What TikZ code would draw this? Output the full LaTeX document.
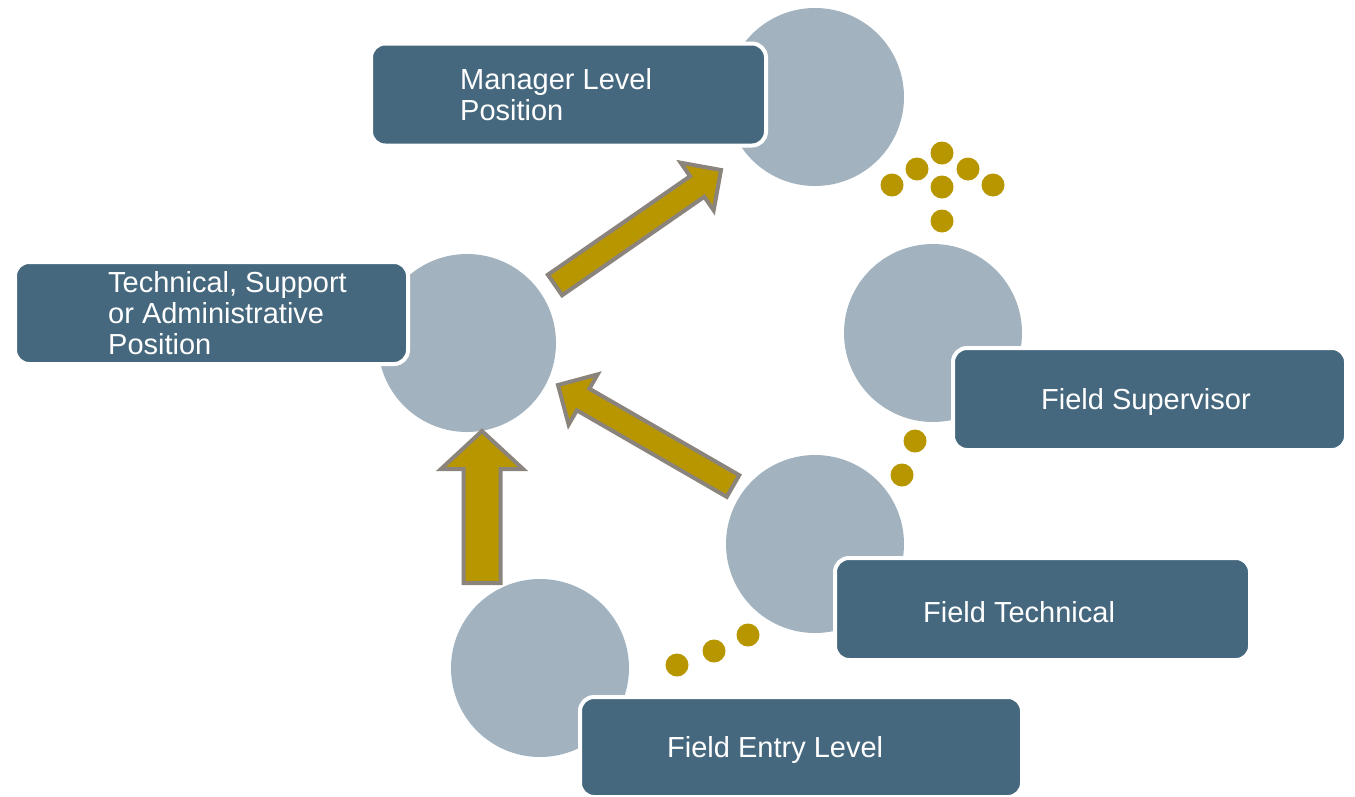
\documentclass[tikz,border=0pt]{standalone}
\usepackage{fontspec}
\setmainfont{Liberation Sans}
\usetikzlibrary{positioning,calc}

\definecolor{discgray}{HTML}{A2B3BF}
\definecolor{boxblue}{HTML}{45687E}
\definecolor{gold}{HTML}{B79600}
\definecolor{goldedge}{HTML}{8B847D}

% block arrow: tail, tip, half shaft width, half head width, head length
\newcommand{\blockarrow}[5]{%
  \coordinate (hb) at ($(#2)!#5!(#1)$);
  \draw[goldarrow] ($(#1)!#3!90:(#2)$) -- ($(hb)!#3!-90:(#1)$)
    -- ($(hb)!#4!-90:(#1)$) -- (#2) -- ($(hb)!#4!90:(#1)$)
    -- ($(hb)!#3!90:(#1)$) -- ($(#1)!#3!-90:(#2)$) -- cycle;}

\begin{document}
\begin{tikzpicture}[x=1pt,y=-1pt,
    disc/.style={circle,fill=discgray,minimum size=178pt,inner sep=0pt},
    role/.style={draw=white,line width=4pt,fill=boxblue,rounded corners=14pt,
      minimum height=102pt,inner sep=0pt},
    caption/.style={text=white,align=left,inner sep=0pt,
      font=\fontsize{29}{31}\selectfont},
    oneline/.style={caption,yshift=-3pt},
    goldarrow/.style={fill=gold,draw=goldedge,line width=4pt,line join=miter},
    dot/.style={fill=gold}
  ]
  \useasboundingbox (0,0) rectangle (1355,796);

  % circles behind the boxes
  \node[disc] (mgrc)  at (815,97)  {};
  \node[disc] (techc) at (467,343) {};
  \node[disc] (supc)  at (933,333) {};
  \node[disc] (ftc)   at (815,544) {};
  \node[disc] (entc)  at (540,668) {};

  % position boxes
  \node[role,minimum width=395pt] (mgr)  at (568.5,94.5) {};
  \node[role,minimum width=393pt] (tech) at (211.5,313)  {};
  \node[role,minimum width=393pt] (sup)  at (1149.5,399) {};
  \node[role,minimum width=415pt] (ft)   at (1042.5,609) {};
  \node[role,minimum width=442pt,minimum height=100pt] (ent) at (801,747) {};

  \node[caption,right=91pt of mgr.west]  {Manager Level\\Position};
  \node[caption,right=95pt of tech.west] {Technical, Support\\or Administrative\\Position};
  \node[oneline,right=90pt of sup.west]  {Field Supervisor};
  \node[oneline,right=90pt of ft.west]   {Field Technical};
  \node[oneline,right=89pt of ent.west]  {Field Entry Level};

  % moves between positions
  \coordinate (up-tail)  at (482,583);
  \coordinate (up-tip)   at (482,431);
  \coordinate (mgr-tail) at (555,285);
  \coordinate (mgr-tip)  at (721,170);
  \coordinate (ft-tail)  at (733,486);
  \coordinate (ft-tip)   at (558,385);
  \blockarrow{up-tail}{up-tip}{18.5pt}{41pt}{38pt}
  \blockarrow{mgr-tail}{mgr-tip}{12.5pt}{29pt}{29pt}
  \blockarrow{ft-tail}{ft-tip}{12.5pt}{29pt}{29pt}

  % dotted steps
  \fill[dot] (942,153) circle[radius=11.5pt] (917,169) circle[radius=11.5pt]
    (968,169) circle[radius=11.5pt] (892,185) circle[radius=11.5pt]
    (942,187) circle[radius=11.5pt] (993,185) circle[radius=11.5pt]
    (942,221) circle[radius=11.5pt];
  \fill[dot] (915,441) circle[radius=11.5pt] (902,475) circle[radius=11.5pt];
  \fill[dot] (677,665) circle[radius=11.5pt] (714,651) circle[radius=11.5pt]
    (748,635) circle[radius=11.5pt];
\end{tikzpicture}
\end{document}
